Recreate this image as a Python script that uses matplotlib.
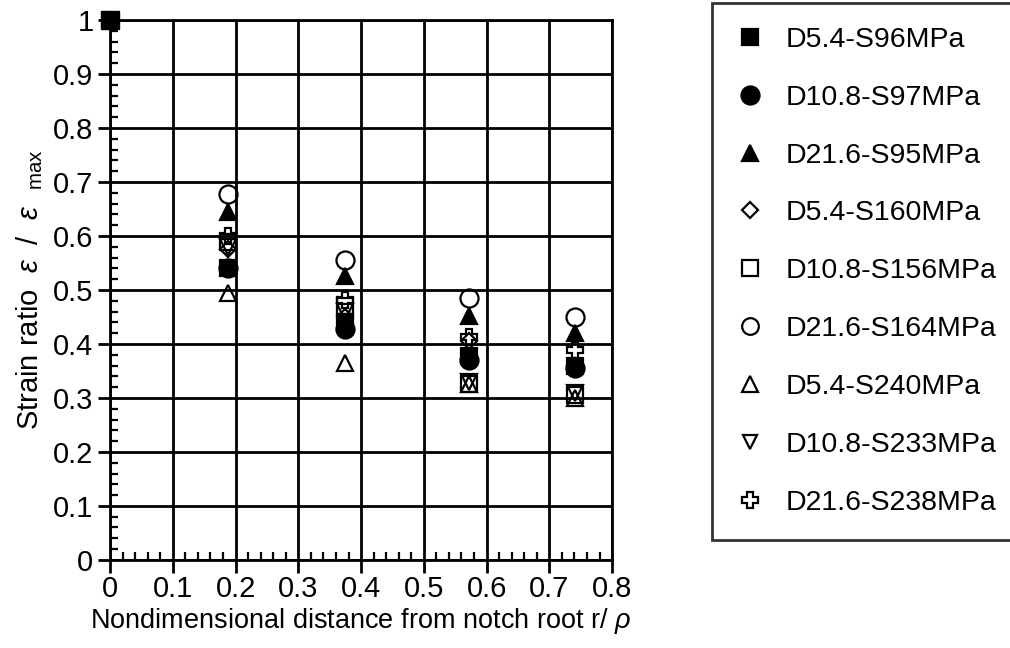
import matplotlib
matplotlib.use("Agg")
import matplotlib.pyplot as plt
from matplotlib.ticker import MultipleLocator, FuncFormatter

plt.rcParams['font.family'] = ['Liberation Sans', 'DejaVu Sans']
plt.rcParams['mathtext.fontset'] = 'custom'
plt.rcParams['mathtext.rm'] = 'Liberation Sans'
plt.rcParams['mathtext.it'] = 'Liberation Sans:italic'

# Data
x_pos = [0.188, 0.374, 0.572, 0.741]
origin_x = [0.0]
origin_y = [1.0]

labels = ["D5.4-S96MPa", "D10.8-S97MPa", "D21.6-S95MPa",
          "D5.4-S160MPa", "D10.8-S156MPa", "D21.6-S164MPa",
          "D5.4-S240MPa", "D10.8-S233MPa", "D21.6-S238MPa"]

d54_s96 = [0.540, 0.440, 0.378, 0.360]
d108_s97 = [0.540, 0.428, 0.370, 0.355]
d216_s95 = [0.645, 0.525, 0.452, 0.420]
d54_s160 = [0.575, 0.450, 0.405, 0.360]
d108_s156 = [0.588, 0.470, 0.325, 0.305]
d216_s164 = [0.678, 0.555, 0.485, 0.450]
d54_s240 = [0.495, 0.365, 0.325, 0.300]
d108_s233 = [0.580, 0.460, 0.330, 0.310]
d216_s238 = [0.600, 0.482, 0.412, 0.388]

series = [d54_s96, d108_s97, d216_s95, d54_s160, d108_s156,
          d216_s164, d54_s240, d108_s233, d216_s238]
markers = ['s', 'o', '^', 'D', 's', 'o', '^', 'v', 'P']
filled = [True, True, True, False, False, False, False, False, False]
sizes = [12, 13, 12, 8, 12, 13, 12, 11, 12]
legend_sizes = [12, 13, 12, 8, 11, 12, 11, 10, 11]

fig = plt.figure(figsize=(10.10, 6.48), dpi=100)
ax = fig.add_axes([0.109, 0.136, 0.497, 0.833])

handles = []
for vals, lab, m, f, ms in zip(series, labels, markers, filled, sizes):
    h, = ax.plot(x_pos, vals, linestyle='none', marker=m, markersize=ms,
                 markerfacecolor='black' if f else 'none',
                 markeredgecolor='black', markeredgewidth=1.6,
                 label=lab, clip_on=False, zorder=3)
    handles.append(h)

ax.plot(origin_x, origin_y, linestyle='none', marker='s', markersize=13,
        color='black', clip_on=False, zorder=4)

fmt = FuncFormatter(lambda v, p: '0' if abs(v) < 1e-9 else ('1' if abs(v - 1) < 1e-9 else f'{v:.1f}'))
ax.set_xlim(0, 0.8)
ax.set_ylim(0, 1)
ax.xaxis.set_major_locator(MultipleLocator(0.1))
ax.xaxis.set_minor_locator(MultipleLocator(0.02))
ax.yaxis.set_major_locator(MultipleLocator(0.1))
ax.yaxis.set_minor_locator(MultipleLocator(0.02))
ax.xaxis.set_major_formatter(fmt)
ax.yaxis.set_major_formatter(fmt)
ax.tick_params(which='major', direction='out', length=9, width=2, labelsize=21, pad=3)
ax.tick_params(which='minor', direction='in', length=6, width=1.6)
ax.tick_params(axis='x', which='major', pad=2)
ax.grid(True, which='major', color='black', linewidth=2)
for s in ax.spines.values():
    s.set_linewidth(2)

ax.set_xlabel(r"Nondimensional distance from notch root r/ $\it{\rho}$", fontsize=19.5, labelpad=2)
ax.set_ylabel(r"Strain ratio  $\it{\varepsilon}$  /  $\it{\varepsilon}_{\ \ \ \mathrm{max}}$", fontsize=21, labelpad=6)

leg = fig.legend(handles=handles, loc='upper left', bbox_to_anchor=(0.705, 0.996),
                 frameon=True, fancybox=False, edgecolor='black', fontsize=20.5,
                 handlelength=1.0, handletextpad=0.75, labelspacing=1.12,
                 borderpad=0.85, borderaxespad=0)
leg.get_frame().set_linewidth(2)
for lh, ms in zip(leg.legend_handles, legend_sizes):
    lh.set_markersize(ms)

fig.savefig('out.png', dpi=100)
